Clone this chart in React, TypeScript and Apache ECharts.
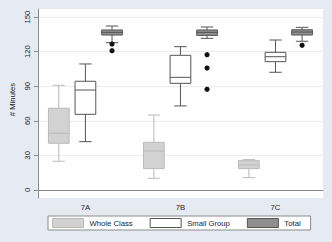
import React, { useEffect, useRef } from "react";
import * as echarts from "echarts";

const categories = ["7A", "7B", "7C"];
const seriesNames = ["Whole Class", "Small Group", "Total"];
// [categoryIndex, min, q1, median, q3, max]
const wholeClass = [
  [0, 24.9, 40.5, 49.2, 70.9, 90.8],
  [1, 10.1, 18.5, 33.8, 41.3, 65.0],
  [2, 10.7, 18.5, 21.7, 25.4, 26.3],
];
const smallGroup = [
  [0, 41.9, 65.6, 86.7, 94.3, 109.3],
  [1, 72.9, 92.5, 97.7, 116.8, 124.3],
  [2, 102.1, 111.3, 115.6, 119.4, 130.1],
];
const total = [
  [0, 127.8, 134.4, 136.7, 138.8, 142.2],
  [1, 131.5, 134.1, 136.7, 138.8, 141.4],
  [2, 129.0, 134.4, 137.0, 139.0, 141.1],
];
// [categoryIndex, value]
const totalOutliers = [
  [0, 126.6],
  [0, 120.8],
  [1, 117.4],
  [1, 105.8],
  [1, 87.3],
  [2, 125.5],
];
const yTicks = [0, 30, 60, 90, 120, 150];

const FONT = "'Liberation Sans', Arial, Helvetica, sans-serif";
const BG = "#e6eaf3";

const styles = [
  { fill: "#d2d2d2", stroke: "#bababa" },
  { fill: "#ffffff", stroke: "#555555" },
  { fill: "#8f8f8f", stroke: "#555555" },
];

function boxRender(slot: number) {
  const st = styles[slot];
  return (params: any, api: any) => {
    const ci = api.value(0);
    const band = api.size([1, 0])[0];
    const cx = api.coord([ci, 0])[0] + (slot - 1) * band * 0.28;
    const bw = band * 0.218;
    const cw = bw * 0.6;
    const yMin = api.coord([ci, api.value(1)])[1];
    const yQ1 = api.coord([ci, api.value(2)])[1];
    const yMed = api.coord([ci, api.value(3)])[1];
    const yQ3 = api.coord([ci, api.value(4)])[1];
    const yMax = api.coord([ci, api.value(5)])[1];
    const ls = { stroke: st.stroke, lineWidth: 1, fill: null };
    return {
      type: "group",
      children: [
        { type: "line", shape: { x1: cx, y1: yQ3, x2: cx, y2: yMax }, style: ls },
        { type: "line", shape: { x1: cx, y1: yQ1, x2: cx, y2: yMin }, style: ls },
        { type: "line", shape: { x1: cx - cw / 2, y1: yMax, x2: cx + cw / 2, y2: yMax }, style: ls },
        { type: "line", shape: { x1: cx - cw / 2, y1: yMin, x2: cx + cw / 2, y2: yMin }, style: ls },
        {
          type: "rect",
          shape: { x: cx - bw / 2, y: yQ3, width: bw, height: yQ1 - yQ3 },
          style: { fill: st.fill, stroke: st.stroke, lineWidth: 1 },
        },
        { type: "line", shape: { x1: cx - bw / 2, y1: yMed, x2: cx + bw / 2, y2: yMed }, style: ls },
      ],
    };
  };
}

function outlierRender(params: any, api: any) {
  const ci = api.value(0);
  const band = api.size([1, 0])[0];
  const cx = api.coord([ci, 0])[0] + band * 0.28;
  const cy = api.coord([ci, api.value(1)])[1];
  return { type: "circle", shape: { cx, cy, r: 2.6 }, style: { fill: "#111111" } };
}

export default function App() {
  const ref = useRef<HTMLDivElement>(null);
  useEffect(() => {
    if (!ref.current) return;
    const chart = echarts.init(ref.current, undefined, { renderer: "svg" });
    const boxData = [wholeClass, smallGroup, total];
    chart.setOption({
      animation: false,
      backgroundColor: BG,
      textStyle: { fontFamily: FONT },
      grid: {
        left: 33,
        right: 9,
        top: 9,
        bottom: 44,
        show: true,
        backgroundColor: "#ffffff",
        borderWidth: 0,
      },
      legend: {
        left: 48,
        top: 216,
        itemWidth: 31,
        itemHeight: 9,
        itemGap: 17,
        padding: [2, 10, 2, 4],
        backgroundColor: "#ffffff",
        borderColor: "#8a8a8a",
        borderWidth: 1,
        borderRadius: 0,
        icon: "rect",
        textStyle: { fontSize: 7.7, color: "#222", fontFamily: FONT, padding: [0, 0, 0, 1] },
        data: seriesNames.map((n, i) => ({
          name: n,
          itemStyle: { color: styles[i].fill, borderColor: styles[i].stroke, borderWidth: 1 },
        })),
      },
      xAxis: {
        type: "category",
        data: categories,
        axisLine: { show: true, lineStyle: { color: "#8a8a8a", width: 1 } },
        axisTick: { show: false },
        axisLabel: { fontSize: 7.7, color: "#222", margin: 5, fontFamily: FONT },
        splitLine: { show: false },
      },
      yAxis: {
        type: "value",
        min: -7,
        max: 157,
        name: "# Minutes",
        nameLocation: "middle",
        nameGap: 13,
        nameTextStyle: { fontSize: 7.7, color: "#222", fontFamily: FONT, padding: [0, 0, 0, 8] },
        axisLine: { show: true, lineStyle: { color: "#8a8a8a", width: 1 } },
        axisTick: { show: true, length: 4, customValues: yTicks, lineStyle: { color: "#8a8a8a" } },
        axisLabel: { customValues: yTicks, rotate: 90, margin: 6, fontSize: 7.7, color: "#222", fontFamily: FONT },
        splitLine: { show: true, lineStyle: { color: "#e8ecf4", width: 1 } },
      },
      series: [
        ...boxData.map((d, i) => ({
          type: "custom",
          name: seriesNames[i],
          renderItem: boxRender(i),
          encode: { x: 0, y: [1, 2, 3, 4, 5] },
          data: d,
          itemStyle: { color: styles[i].fill },
          z: 2,
        })),
        {
          type: "custom",
          name: "Total outliers",
          renderItem: outlierRender,
          encode: { x: 0, y: 1 },
          data: totalOutliers,
          z: 3,
        },
      ],
    });
    return () => chart.dispose();
  }, []);
  return (
    <div
      ref={ref}
      style={{ position: "fixed", left: 0, top: 0, width: 332, height: 242 }}
    />
  );
}
